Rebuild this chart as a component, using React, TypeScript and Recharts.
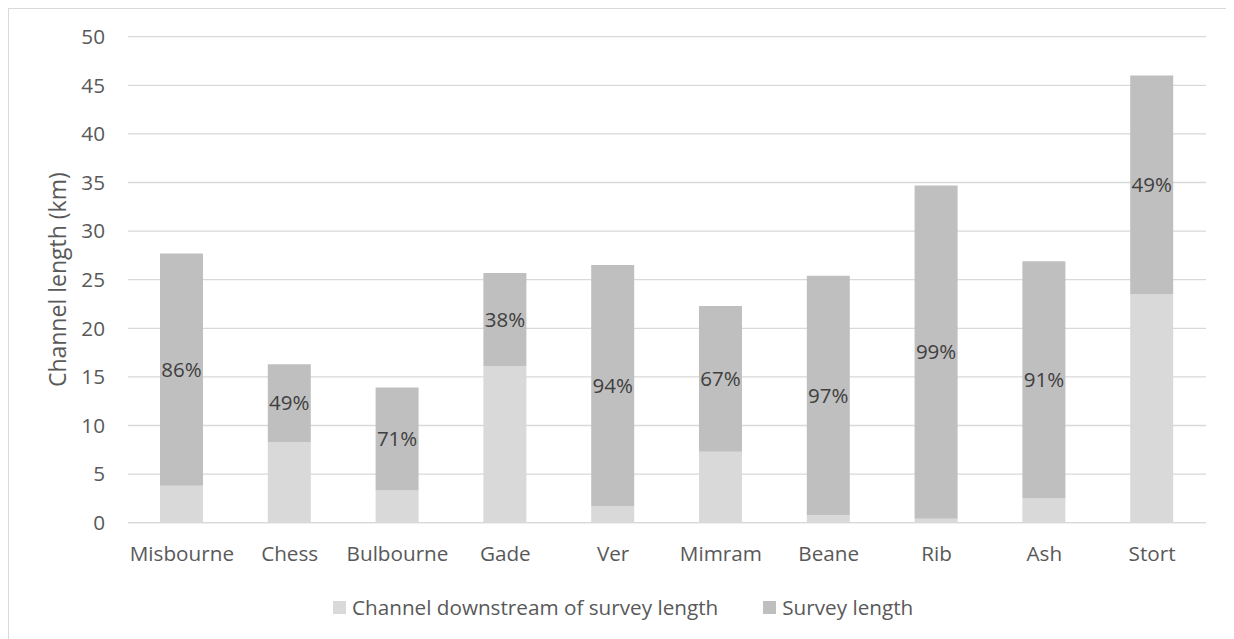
import React from 'react';
import { BarChart, Bar, XAxis, YAxis, CartesianGrid, Legend, LabelList } from 'recharts';

// River channel lengths (km)
const rivers = ['Misbourne', 'Chess', 'Bulbourne', 'Gade', 'Ver', 'Mimram', 'Beane', 'Rib', 'Ash', 'Stort'];
const downstreamKm = [3.8, 8.3, 3.3, 16.1, 1.7, 7.3, 0.8, 0.4, 2.5, 23.5];
const surveyKm = [23.9, 8.0, 10.6, 9.6, 24.8, 15.0, 24.6, 34.3, 24.4, 22.5];
const surveyShare = ['86%', '49%', '71%', '38%', '94%', '67%', '97%', '99%', '91%', '49%'];
const yTicks = [0, 5, 10, 15, 20, 25, 30, 35, 40, 45, 50];

const seriesNames = ['Channel downstream of survey length', 'Survey length'];
const seriesColors = ['#D9D9D9', '#BFBFBF'];

const FONT = '"Open Sans", sans-serif';
const TEXT = '#595959';

const data = rivers.map((name, i) => ({
  name,
  downstream: downstreamKm[i],
  survey: surveyKm[i],
  share: surveyShare[i],
}));

const LegendRow = () => (
  <div
    style={{
      height: 40,
      display: 'flex',
      alignItems: 'center',
      paddingLeft: 325,
      fontFamily: FONT,
      fontSize: 20.7,
      color: TEXT,
      whiteSpace: 'nowrap',
    }}
  >
    {seriesNames.map((n, i) => (
      <div key={n} style={{ display: 'flex', alignItems: 'center', marginRight: 45 }}>
        <span style={{ width: 13, height: 13, background: seriesColors[i], marginRight: 6, display: 'inline-block' }} />
        <span>{n}</span>
      </div>
    ))}
  </div>
);

export default function App() {
  return (
    <div style={{ position: 'relative', width: 1226, height: 631 }}>
      <div
        style={{
          position: 'absolute',
          left: 0,
          top: 0,
          width: 1226,
          height: 631,
          borderTop: '1px solid #D9D9D9',
          borderLeft: '1px solid #D9D9D9',
          boxSizing: 'border-box',
          pointerEvents: 'none',
        }}
      />
      <BarChart
        width={1226}
        height={631}
        data={data}
        margin={{ top: 28.7, right: 28, bottom: 12, left: 0 }}
        barSize={43}
      >
        <CartesianGrid vertical={false} stroke="#D9D9D9" strokeWidth={1.3} />
        <XAxis
          dataKey="name"
          height={64.3}
          axisLine={{ stroke: '#D9D9D9', strokeWidth: 1.3 }}
          tickLine={false}
          tickSize={0}
          tickMargin={24}
          tick={{ fill: TEXT, fontSize: 20.7, fontFamily: FONT }}
          interval={0}
        />
        <YAxis
          width={120}
          domain={[0, 50]}
          ticks={yTicks}
          axisLine={false}
          tickLine={false}
          tickSize={0}
          tickMargin={23}
          tick={{ fill: TEXT, fontSize: 20.7, fontFamily: FONT }}
          label={{
            value: 'Channel length (km)',
            angle: -90,
            position: 'insideLeft',
            offset: 50,
            style: { textAnchor: 'middle', fill: TEXT, fontSize: 23, fontFamily: FONT },
          }}
        />
        <Legend verticalAlign="bottom" content={() => <LegendRow />} />
        <Bar dataKey="downstream" stackId="a" fill={seriesColors[0]} name={seriesNames[0]} isAnimationActive={false} />
        <Bar dataKey="survey" stackId="a" fill={seriesColors[1]} name={seriesNames[1]} isAnimationActive={false}>
          <LabelList dataKey="share" position="center" fill="#404040" fontSize={20.5} fontFamily={FONT} />
        </Bar>
      </BarChart>
    </div>
  );
}
